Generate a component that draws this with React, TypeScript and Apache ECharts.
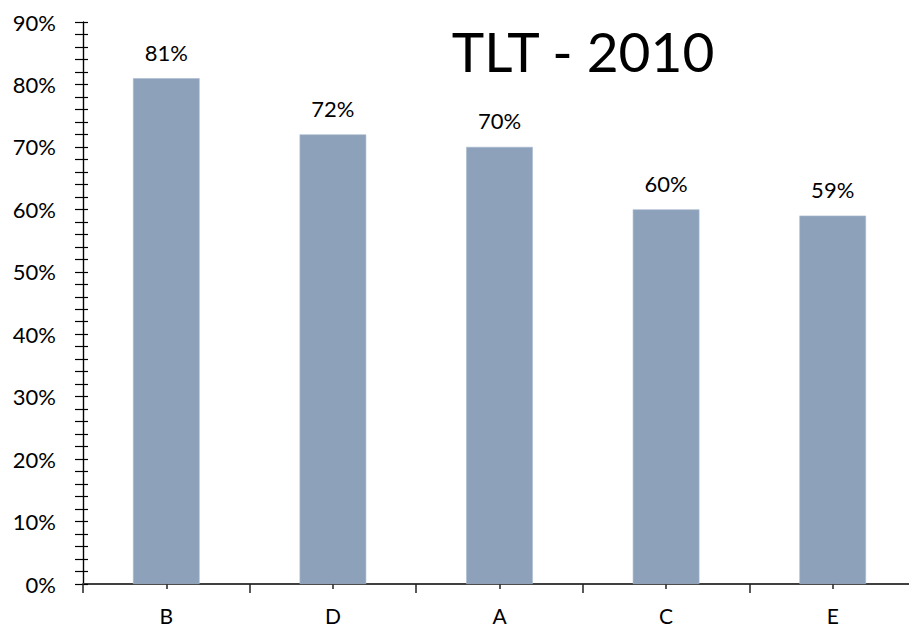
import React, { useEffect, useRef } from "react";
import * as echarts from "echarts";

const categories = ["B", "D", "A", "C", "E"];
const values = [81, 72, 70, 60, 59];
const titleText = "TLT - 2010";
const yMin = 0;
const yMax = 90;
const yInterval = 10;

const FONT = "Lato, 'Open Sans', sans-serif";

export default function App() {
  const ref = useRef<HTMLDivElement>(null);
  useEffect(() => {
    if (!ref.current) return;
    const chart = echarts.init(ref.current, null, { renderer: "svg" });
    const yBase = {
      type: "value",
      min: yMin,
      max: yMax,
      interval: yInterval,
      splitLine: { show: false },
      axisLine: { show: true, lineStyle: { color: "#000", width: 1.2 } },
    };
    const xBase = {
      type: "category",
      data: categories,
      position: "bottom",
      splitLine: { show: false },
    };
    chart.setOption({
      animation: false,
      backgroundColor: "#fff",
      title: {
        text: titleText,
        left: 578,
        top: 18,
        textAlign: "center",
        textStyle: { fontFamily: FONT, fontSize: 55, fontWeight: "normal", color: "#000" },
      },
      grid: { left: 83, right: 0, top: 22, bottom: 44 },
      xAxis: [
        {
          ...xBase,
          axisLine: { show: true, lineStyle: { color: "#404040", width: 2 } },
          axisTick: { show: true, inside: false, length: 9, lineStyle: { color: "#222", width: 1.5 } },
          axisLabel: { margin: 21, fontFamily: FONT, fontSize: 21, color: "#000" },
        },
        {
          ...xBase,
          axisLine: { show: false },
          axisTick: { show: true, alignWithLabel: true, inside: true, length: 7, lineStyle: { color: "#222", width: 1.5 } },
          axisLabel: { show: false },
        },
        {
          ...xBase,
          axisLine: { show: false },
          axisTick: { show: true, alignWithLabel: true, inside: false, length: 5, lineStyle: { color: "#222", width: 1.5 } },
          axisLabel: { show: false },
        },
      ],
      yAxis: [
        {
          ...yBase,
          position: "left",
          axisTick: { show: true, inside: false, length: 8, lineStyle: { color: "#000", width: 1.2 } },
          minorTick: { show: true, splitNumber: 5, length: 8, lineStyle: { color: "#000", width: 1.2 } },
          axisLabel: { margin: 27, fontFamily: FONT, fontSize: 22, color: "#000", formatter: "{value}%" },
        },
        {
          ...yBase,
          position: "left",
          offset: 0,
          axisTick: { show: true, inside: true, length: 5, lineStyle: { color: "#000", width: 1.2 } },
          minorTick: { show: true, splitNumber: 5, length: 5, lineStyle: { color: "#000", width: 1.2 } },
          axisLabel: { show: false },
        },
      ],
      series: [
        {
          type: "bar",
          xAxisIndex: 0,
          yAxisIndex: 0,
          data: values,
          barWidth: "40%",
          itemStyle: { color: "#8DA1BA", borderColor: "#A9BAD0", borderWidth: 0.6 },
          label: {
            show: true,
            position: "top",
            distance: 15,
            formatter: "{c}%",
            fontFamily: FONT,
            fontSize: 22,
            color: "#000",
          },
          z: 1,
        },
      ],
    });
    return () => chart.dispose();
  }, []);
  return (
    <div style={{ position: "absolute", left: 0, top: 0, width: 909, height: 628, overflow: "hidden" }}>
      <div ref={ref} style={{ position: "absolute", left: 0, top: 0, width: 916, height: 628 }} />
    </div>
  );
}
